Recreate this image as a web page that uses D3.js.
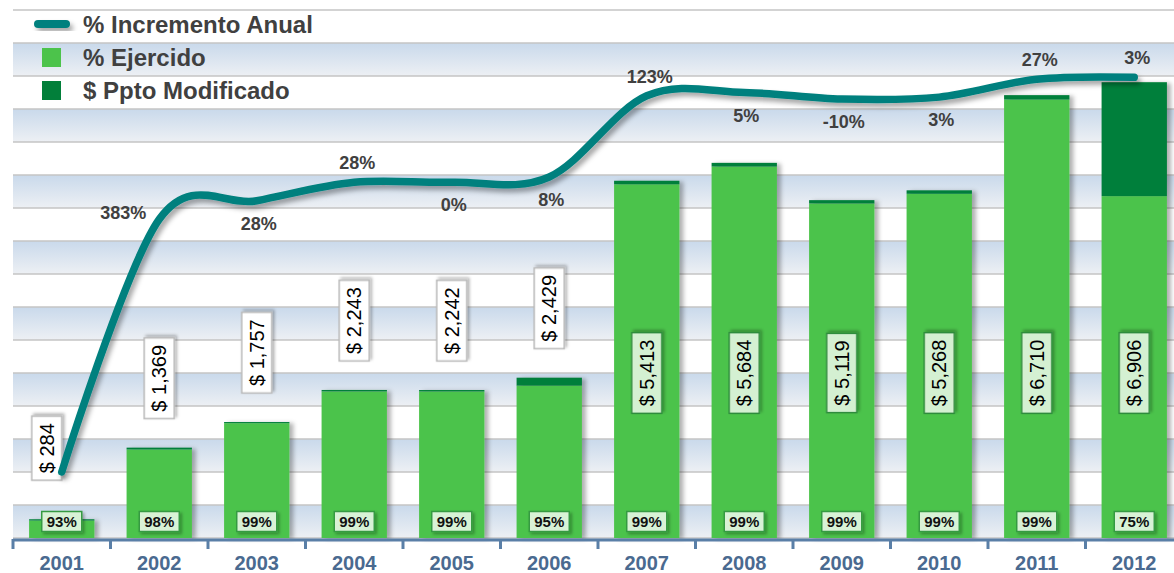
<!DOCTYPE html>
<html>
<head>
<meta charset="utf-8">
<script src="https://cdn.jsdelivr.net/npm/d3@7"></script>
<style>
    html, body { margin: 0; padding: 0; background: #ffffff; }
    svg { display: block; font-family: 'Liberation Sans', Arial, sans-serif; }
</style>
</head>
<body>
<div id="chart"></div>
<script>
// Datos del presupuesto (millones de pesos)
const anios = ['2001', '2002', '2003', '2004', '2005', '2006', '2007', '2008', '2009', '2010', '2011', '2012'];
const pptoModificado = [284, 1369, 1757, 2243, 2242, 2429, 5413, 5684, 5119, 5268, 6710, 6906];
const pctEjercido = [93, 98, 99, 99, 99, 95, 99, 99, 99, 99, 99, 75];
const incrementoAnual = [null, 383, 28, 28, 0, 8, 123, 5, -10, 3, 27, 3];
// la linea se dibuja en el eje secundario con el incremento acumulado
const incrementoAcumulado = [0, 383, 411, 439, 439, 447, 570, 575, 565, 568, 595, 598];
const leyenda = ['% Incremento Anual', '% Ejercido', '$ Ppto Modificado'];

const W = 1174, H = 573;
const verdeClaro = '#4cc34b';
const verdeOscuro = '#027f3a';
const teal = '#00807e';

// donde va cada etiqueta de incremento respecto al punto
const lado = [null, 'left', 'below', 'above', 'below', 'below', 'above', 'below', 'below', 'below', 'above', 'above'];

const svg = d3.select('#chart').append('svg')
    .attr('width', W)
    .attr('height', H);

const defs = svg.append('defs');

const grad = defs.append('linearGradient')
    .attr('id', 'banda')
    .attr('x1', 0).attr('y1', 0).attr('x2', 0).attr('y2', 1);
grad.append('stop').attr('offset', '0%').attr('stop-color', '#c9d9eb');
grad.append('stop').attr('offset', '100%').attr('stop-color', '#edf0f4');

function sombra(id, dx, dy, blur, op) {
    defs.append('filter')
        .attr('id', id)
        .attr('x', '-20%').attr('y', '-20%').attr('width', '150%').attr('height', '150%')
        .append('feDropShadow')
        .attr('dx', dx).attr('dy', dy)
        .attr('stdDeviation', blur)
        .attr('flood-color', '#000')
        .attr('flood-opacity', op);
}
sombra('sombraBarra', 4, 1, 2, 0.3);
sombra('sombraLinea', 3, 4, 2.5, 0.35);
sombra('sombraCaja', 2, 2, 1.5, 0.3);

// Escalas
const x = d3.scaleBand()
    .domain(anios)
    .range([13, 1183])
    .paddingInner(0.33)
    .paddingOuter(0.165);

const y = d3.scaleLinear().domain([0, 8000]).range([538, 10]);
const y2 = d3.scaleLinear().domain([-100, 700]).range([538, 10]);

const paso = x.step();
const bw = x.bandwidth();
const cx = i => x(anios[i]) + bw / 2;

// Fondo con bandas
const ticks = y.ticks(16);
const fondo = svg.append('g');
fondo.selectAll('rect')
    .data(ticks.slice(0, -1))
    .enter()
    .append('rect')
    .attr('x', 13)
    .attr('width', W - 13)
    .attr('y', d => y(d + 500))
    .attr('height', d => y(d) - y(d + 500))
    .attr('fill', d => (d / 500) % 2 === 0 ? 'url(#banda)' : '#ffffff');

fondo.selectAll('line')
    .data(ticks)
    .enter()
    .append('line')
    .attr('x1', 13)
    .attr('x2', W)
    .attr('y1', d => y(d))
    .attr('y2', d => y(d))
    .attr('stroke', '#c4c4c4')
    .attr('stroke-width', 1.5);

// Barras apiladas
const barras = svg.append('g').attr('filter', 'url(#sombraBarra)');
barras.selectAll('rect.ejercido')
    .data(pptoModificado)
    .enter()
    .append('rect')
    .attr('class', 'ejercido')
    .attr('x', (d, i) => x(anios[i]))
    .attr('width', bw)
    .attr('y', (d, i) => y(d * pctEjercido[i] / 100))
    .attr('height', (d, i) => y(0) - y(d * pctEjercido[i] / 100))
    .attr('fill', verdeClaro);

barras.selectAll('rect.resto')
    .data(pptoModificado)
    .enter()
    .append('rect')
    .attr('class', 'resto')
    .attr('x', (d, i) => x(anios[i]))
    .attr('width', bw)
    .attr('y', d => y(d))
    .attr('height', (d, i) => y(d * pctEjercido[i] / 100) - y(d))
    .attr('fill', verdeOscuro);

// Etiquetas de monto (giradas)
const montos = svg.append('g');
pptoModificado.forEach((v, i) => {
    const dentro = v > 4000;
    const g = montos.append('g');
    const t = g.append('text')
        .text('$ ' + d3.format(',')(v))
        .attr('text-anchor', 'middle')
        .attr('dominant-baseline', 'central')
        .style('font-size', '20px')
        .attr('fill', '#000');
    const largo = t.node().getComputedTextLength() + 14;
    g.insert('rect', 'text')
        .attr('x', -largo / 2)
        .attr('y', -15)
        .attr('width', largo)
        .attr('height', 30)
        .attr('fill', dentro ? '#d4f0d2' : '#ffffff')
        .attr('stroke', dentro ? '#2f8c3c' : '#b9b9b9')
        .attr('stroke-width', 1.5)
        .attr('filter', 'url(#sombraCaja)');
    let px = cx(i);
    let py = dentro ? y(2500) : y(v) - 29 - largo / 2;
    if (i === 0) { px -= 15; py -= 10; }
    g.attr('transform', `translate(${px},${py}) rotate(-90)`);
});

// Etiquetas de % ejercido
const pcts = svg.append('g');
pctEjercido.forEach((v, i) => {
    const g = pcts.append('g').attr('transform', `translate(${cx(i)},521.5)`);
    const t = g.append('text')
        .text(v + '%')
        .attr('text-anchor', 'middle')
        .attr('dominant-baseline', 'central')
        .style('font-size', '15px')
        .style('font-weight', 'bold')
        .attr('fill', '#111');
    const w = t.node().getComputedTextLength() + 10;
    g.insert('rect', 'text')
        .attr('x', -w / 2)
        .attr('y', -10)
        .attr('width', w)
        .attr('height', 20)
        .attr('fill', '#d8f2d6')
        .attr('stroke', '#359a42')
        .attr('stroke-width', 1.5)
        .attr('filter', 'url(#sombraCaja)');
});

// Linea de incremento
const linea = d3.line()
    .x((d, i) => cx(i))
    .y(d => y2(d))
    .curve(d3.curveCardinal.tension(0));

svg.append('path')
    .datum(incrementoAcumulado)
    .attr('d', linea)
    .attr('fill', 'none')
    .attr('stroke', teal)
    .attr('stroke-width', 7.5)
    .attr('stroke-linecap', 'round')
    .attr('filter', 'url(#sombraLinea)');

const etiq = svg.append('g')
    .style('font-size', '18px')
    .style('font-weight', 'bold')
    .attr('fill', '#404040');
incrementoAnual.forEach((v, i) => {
    if (v === null) return;
    const px = cx(i), py = y2(incrementoAcumulado[i]);
    const t = etiq.append('text')
        .text(v + '%')
        .attr('dominant-baseline', 'central');
    if (lado[i] === 'left') {
        t.attr('x', px - 13).attr('y', py - 6).attr('text-anchor', 'end');
    } else if (lado[i] === 'above') {
        t.attr('x', px + 3).attr('y', py - 19).attr('text-anchor', 'middle');
    } else {
        t.attr('x', px + 2).attr('y', py + 23).attr('text-anchor', 'middle');
    }
});

// Eje X
const eje = svg.append('g');
eje.append('line')
    .attr('x1', 13).attr('x2', W)
    .attr('y1', 540).attr('y2', 540)
    .attr('stroke', '#5a7fa7')
    .attr('stroke-width', 3);
eje.selectAll('line.tick')
    .data(d3.range(anios.length + 1))
    .enter()
    .append('line')
    .attr('class', 'tick')
    .attr('x1', i => 13 + i * paso)
    .attr('x2', i => 13 + i * paso)
    .attr('y1', 539)
    .attr('y2', 549)
    .attr('stroke', '#5a7fa7')
    .attr('stroke-width', 3);
eje.selectAll('text')
    .data(anios)
    .enter()
    .append('text')
    .attr('x', d => x(d) + bw / 2)
    .attr('y', 563)
    .attr('text-anchor', 'middle')
    .attr('dominant-baseline', 'central')
    .style('font-size', '20px')
    .style('font-weight', 'bold')
    .attr('fill', '#4a6a90')
    .text(d => d);

// Leyenda
const ley = svg.append('g');
ley.append('rect')
    .attr('x', 34).attr('y', 20)
    .attr('width', 36).attr('height', 8)
    .attr('rx', 4)
    .attr('fill', teal)
    .attr('filter', 'url(#sombraLinea)');
[verdeClaro, verdeOscuro].forEach((c, i) => {
    ley.append('rect')
        .attr('x', 42)
        .attr('y', 48 + i * 33)
        .attr('width', 19)
        .attr('height', 19)
        .attr('fill', c);
});
leyenda.forEach((s, i) => {
    ley.append('text')
        .attr('x', 83)
        .attr('y', 24 + i * 33)
        .attr('dominant-baseline', 'central')
        .style('font-size', '24px')
        .style('font-weight', 'bold')
        .attr('fill', '#404040')
        .text(s);
});
</script>
</body>
</html>
